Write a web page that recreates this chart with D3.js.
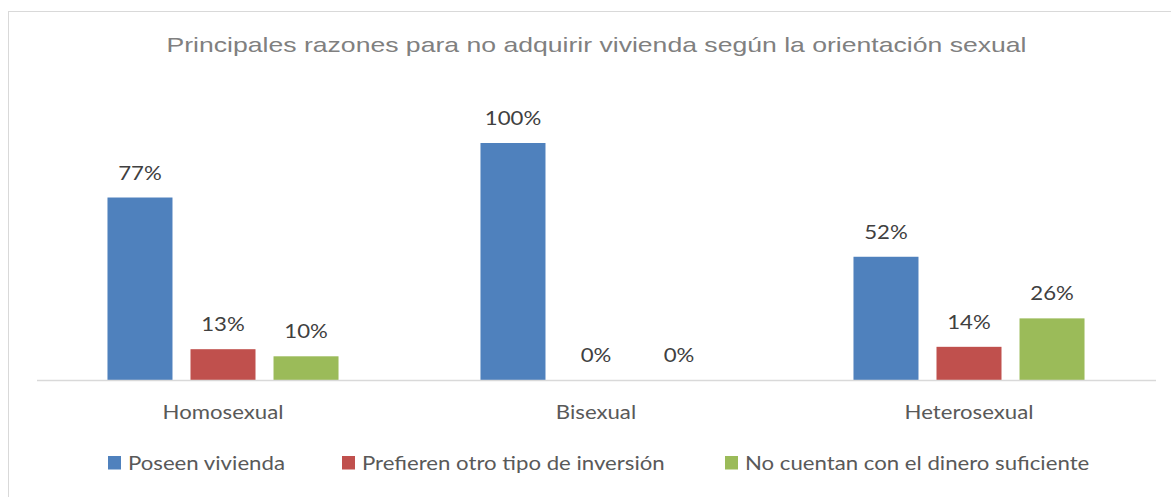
<!DOCTYPE html>
<html>
<head>
<meta charset="utf-8">
<script src="https://cdn.jsdelivr.net/npm/d3@7"></script>
<style>
  body { margin: 0; background: #fff; }
  #chart { width: 1171px; height: 497px; }
</style>
</head>
<body>
<div id="chart"></div>
<script>
const title = 'Principales razones para no adquirir vivienda según la orientación sexual';
const categories = ['Homosexual', 'Bisexual', 'Heterosexual'];
const seriesNames = ['Poseen vivienda', 'Prefieren otro tipo de inversión', 'No cuentan con el dinero suficiente'];
const poseen = [77, 100, 52];
const prefieren = [13, 0, 14];
const noCuentan = [10, 0, 26];
const colors = ['#4f81bd', '#c0504d', '#9bbb59'];

const width = 1171;
const height = 497;
const margin = {left: 36.5, right: 15.5, top: 143, bottom: 117};
const bodyFont = 'Lato, "Open Sans", sans-serif';
const bodySize = 20;
// the picture is a little wider than tall, so text gets stretched sideways
const bodyStretch = 1.11;
const titleStretch = 1.33;

const series = [poseen, prefieren, noCuentan];
const rows = [];
categories.forEach(function(c, i) {
  series.forEach(function(s, j) {
    rows.push({category: c, key: seriesNames[j], value: s[i], idx: j});
  });
});

const svg = d3.select('#chart')
  .append('svg')
  .attr('width', width)
  .attr('height', height);

// chart frame (only top and left edges show in the picture)
svg.append('rect')
  .attr('x', 8.5)
  .attr('y', 11.5)
  .attr('width', 1200)
  .attr('height', 600)
  .attr('fill', 'none')
  .attr('stroke', '#d9d9d9');

svg.append('text')
  .attr('transform', 'translate(596.5,52) scale(' + titleStretch + ',1)')
  .attr('text-anchor', 'middle')
  .attr('font-family', '"Liberation Sans", Arial, sans-serif')
  .attr('font-size', 20)
  .attr('fill', '#808080')
  .text(title);

const x0 = d3.scaleBand()
  .domain(categories)
  .range([margin.left, width - margin.right]);

const x1 = d3.scaleBand()
  .domain(seriesNames)
  .range([0, x0.bandwidth()])
  .paddingInner(0.217)
  .paddingOuter(0.855);

const y = d3.scaleLinear()
  .domain([0, 100])
  .range([height - margin.bottom, margin.top]);

svg.selectAll('.bar')
  .data(rows)
  .enter()
  .append('rect')
  .attr('class', 'bar')
  .attr('x', function(d) { return x0(d.category) + x1(d.key); })
  .attr('y', function(d) { return y(d.value); })
  .attr('width', x1.bandwidth())
  .attr('height', function(d) { return y(0) - y(d.value); })
  .attr('fill', function(d) { return colors[d.idx]; });

svg.selectAll('.label')
  .data(rows)
  .enter()
  .append('text')
  .attr('class', 'label')
  .attr('transform', function(d) {
    const cx = x0(d.category) + x1(d.key) + x1.bandwidth() / 2;
    return 'translate(' + cx + ',' + (y(d.value) - 18) + ') scale(' + bodyStretch + ',1)';
  })
  .attr('text-anchor', 'middle')
  .attr('font-family', bodyFont)
  .attr('font-size', bodySize)
  .attr('fill', '#404040')
  .text(function(d) { return d.value + '%'; });

const xAxis = svg.append('g')
  .attr('transform', 'translate(0,' + y(0) + ')')
  .call(d3.axisBottom(x0).tickSize(0).tickPadding(25));
xAxis.select('.domain').attr('stroke', '#d9d9d9').attr('stroke-width', 1.5);
xAxis.selectAll('text')
  .attr('font-family', bodyFont)
  .attr('font-size', bodySize)
  .attr('fill', '#595959')
  .attr('transform', 'scale(' + bodyStretch + ',1)')
  .attr('x', function() { return 0; });
xAxis.selectAll('.tick')
  .attr('transform', function(d) { return 'translate(' + (x0(d) + x0.bandwidth() / 2) + ',0)'; });

// legend
const legendX = [108, 342, 725];
const legend = svg.selectAll('.legend')
  .data(seriesNames)
  .enter()
  .append('g')
  .attr('class', 'legend')
  .attr('transform', function(d, i) { return 'translate(' + legendX[i] + ',456)'; });

legend.append('rect')
  .attr('width', 13)
  .attr('height', 13.5)
  .attr('fill', function(d, i) { return colors[i]; });

legend.append('text')
  .attr('transform', 'translate(20,13.5) scale(' + bodyStretch + ',1)')
  .attr('font-family', bodyFont)
  .attr('font-size', bodySize)
  .attr('fill', '#595959')
  .text(function(d) { return d; });
</script>
</body>
</html>
